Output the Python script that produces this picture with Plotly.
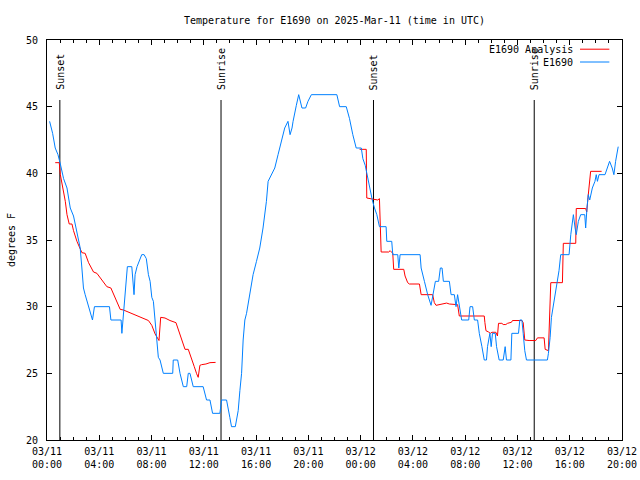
import pandas as pd
import plotly.graph_objects as go

# ---------------- data ----------------
start_time = "2025-03-11 00:00"
end_time = "2025-03-12 20:00"

# observed station temperature (E1690): hours after start, degrees F
obs_hours = [
    0.20, 0.43, 0.63, 0.84, 1.02, 1.27, 1.53, 1.78, 2.03, 2.29,
    2.54, 2.67, 2.79, 2.92, 3.18, 3.48, 3.63, 4.78, 4.89, 5.67,
    5.73, 5.82, 5.98, 6.15, 6.49, 6.59, 6.66, 6.74, 6.89, 7.25,
    7.43, 7.60, 7.76, 7.89, 8.02, 8.14, 8.40, 8.52, 8.65, 8.90,
    9.62, 9.66, 10.00, 10.18, 10.43, 10.69, 10.81, 10.94, 11.19, 11.95,
    12.21, 12.47, 12.67, 13.23, 13.36, 13.74, 13.99, 14.12, 14.41, 14.63,
    14.76, 14.89, 15.01, 15.14, 15.27, 15.52, 15.77, 16.03, 16.28, 16.53,
    16.79, 16.92, 17.18, 17.43, 17.68, 17.94, 18.19, 18.44, 18.60, 18.75,
    18.83, 19.08, 19.26, 19.51, 19.79, 19.97, 20.23, 22.18, 22.39, 22.90,
    23.15, 23.40, 23.66, 24.05, 24.17, 24.35, 24.50, 24.68, 24.89, 25.06,
    25.24, 25.44, 25.95, 26.00, 26.38, 26.46, 26.84, 26.92, 27.02, 28.55,
    28.63, 28.88, 29.13, 29.39, 29.56, 29.72, 29.97, 30.10, 30.23, 30.33,
    30.79, 30.92, 31.17, 31.30, 31.42, 31.55, 31.73, 32.27, 32.37, 32.57,
    32.70, 32.95, 33.08, 33.28, 33.46, 33.63, 33.71, 33.89, 33.99, 34.09,
    34.30, 34.40, 34.60, 34.91, 35.06, 35.16, 35.50, 35.57, 36.08, 36.18,
    36.34, 36.44, 36.56, 36.69, 38.29, 38.37, 38.50, 38.60, 38.73, 38.93,
    39.05, 39.18, 39.31, 39.95, 40.08, 40.20, 40.28, 40.41, 40.50, 40.66,
    40.84, 41.15, 41.22, 41.32, 41.42, 41.53, 41.73, 41.93, 42.03, 42.12,
    42.24, 42.70, 42.87, 43.05, 43.25, 43.38, 43.51, 43.63, 43.71,
]
obs_temp = [
    43.9, 43.0, 41.9, 41.4, 40.7, 39.6, 38.9, 37.4, 36.8, 35.7,
    34.4, 32.9, 31.4, 30.9, 30.0, 29.0, 30.0, 30.0, 29.0, 29.0,
    28.0, 29.0, 31.2, 33.0, 33.0, 31.2, 30.9, 32.4, 33.0, 33.9,
    33.9, 33.6, 32.4, 31.9, 30.7, 30.4, 27.5, 26.2, 26.0, 25.0,
    25.0, 26.0, 26.0, 25.0, 24.0, 24.0, 25.0, 25.0, 24.0, 24.0,
    23.0, 23.0, 22.0, 22.0, 23.0, 23.0, 21.7, 21.0, 21.0, 22.2,
    23.7, 25.0, 27.5, 29.0, 29.5, 30.9, 32.4, 33.4, 34.4, 35.9,
    37.9, 39.4, 39.9, 40.4, 41.4, 42.4, 43.4, 43.9, 42.9, 43.4,
    43.9, 45.1, 45.9, 44.9, 44.9, 45.4, 45.9, 45.9, 45.0, 45.0,
    44.1, 42.9, 41.9, 41.9, 41.1, 40.6, 39.9, 38.9, 38.0, 37.4,
    36.9, 36.0, 36.0, 34.9, 34.9, 33.9, 33.9, 32.9, 33.9, 33.9,
    32.9, 31.9, 30.9, 30.1, 30.9, 31.9, 31.9, 32.9, 32.9, 31.9,
    31.9, 30.9, 30.9, 30.0, 30.9, 30.0, 29.0, 29.0, 30.0, 30.0,
    29.0, 29.0, 28.0, 27.0, 26.0, 26.0, 27.0, 28.0, 27.0, 28.0,
    28.0, 27.0, 26.0, 26.0, 27.0, 26.0, 26.0, 28.0, 28.0, 29.0,
    29.0, 28.0, 26.7, 26.0, 26.0, 26.5, 27.7, 29.2, 30.0, 30.9,
    31.8, 32.7, 33.9, 33.9, 35.4, 36.4, 36.9, 35.9, 35.4, 36.4,
    36.9, 36.9, 35.9, 37.4, 38.4, 38.0, 38.9, 39.4, 39.9, 39.4,
    39.9, 39.9, 40.4, 40.9, 40.4, 39.9, 40.9, 41.6, 42.0,
]

# analysis temperature (E1690 Analysis): hours after start, degrees F (None = gap)
ana_hours = [
    0.63, 0.94, 1.02, 1.22, 1.40, 1.53, 1.70, 1.91, 2.03, 2.29,
    2.54, 2.67, 2.92, 3.18, 3.56, 3.82, 4.20, 4.58, 4.89, 5.21,
    5.60, 5.85, 6.23, 6.61, 6.99, 7.37, 7.76, 8.02, 8.27, 8.57,
    8.65, 8.70, 9.03, 9.41, 9.87, 10.18, 10.38, 10.56, 10.81, 11.07,
    11.27, 11.45, 11.57, 11.70, 11.83, 12.16, 12.47, 12.90,
    18.00,
    23.92, 24.43, 24.47, 25.31, 25.44, 25.57, 26.15, 26.26, 26.46, 26.53,
    27.30, 27.40, 27.60, 27.73, 28.50, 28.63, 29.51, 29.64, 29.77, 30.15,
    30.58, 30.79, 31.42, 31.55, 33.46, 33.51, 33.59, 33.79, 33.92, 34.05,
    34.35, 34.47, 34.55, 34.81, 34.91, 35.11, 35.24, 35.54, 35.62, 36.34,
    36.44, 36.56, 36.89, 37.40, 37.53, 38.04, 38.12, 38.37, 38.47, 38.55,
    39.44, 39.51, 40.46, 40.50, 41.22, 41.30, 41.40, 41.53, 41.60, 42.44,
]
ana_temp = [
    40.8, 40.8, 39.9, 38.9, 37.9, 36.9, 36.2, 36.2, 35.7, 34.9,
    34.4, 34.05, 34.0, 33.3, 32.6, 32.5, 32.0, 31.5, 31.4, 30.7,
    29.8, 29.75, 29.6, 29.4, 29.3, 29.15, 28.96, 28.6, 27.96, 27.46,
    28.3, 29.2, 29.15, 28.96, 28.8, 27.96, 27.3, 26.8, 26.8, 25.97,
    25.5, 24.97, 24.7, 25.6, 25.65, 25.7, 25.8, 25.82,
    None,
    41.8, 41.8, 38.15, 38.0, 38.1, 34.1, 34.1, 34.2, 34.0, 32.8,
    32.8, 32.3, 31.8, 31.7, 31.7, 30.9, 30.9, 30.3, 30.1, 30.2,
    30.27, 30.2, 30.15, 29.3, 29.3, 28.8, 28.2, 28.1, 28.0, 28.08,
    28.08, 27.8, 28.75, 28.75, 28.66, 28.66, 28.75, 28.83, 28.96, 28.96,
    28.8, 27.5, 27.46, 27.46, 27.66, 27.66, 26.8, 26.7, 29.2, 31.8,
    31.8, 34.75, 34.75, 37.36, 37.36, 37.1, 38.2, 39.4, 40.15, 40.15,
]

event_times = ["2025-03-11 00:59", "2025-03-11 13:19", "2025-03-12 00:59", "2025-03-12 13:17"]
event_labels = ["Sunset", "Sunrise", "Sunset", "Sunrise"]

series_names = ["E1690 Analysis", "E1690"]
series_colors = ["#ff0000", "#0080ff"]

# ---------------- figure ----------------
t0 = pd.Timestamp(start_time)


def to_times(hours):
    return [t0 + pd.Timedelta(hours=h) for h in hours]


fig = go.Figure()
fig.add_trace(go.Scatter(x=to_times(ana_hours), y=ana_temp, mode="lines",
                         name=series_names[0], connectgaps=False,
                         line=dict(color=series_colors[0], width=1)))
fig.add_trace(go.Scatter(x=to_times(obs_hours), y=obs_temp, mode="lines",
                         name=series_names[1],
                         line=dict(color=series_colors[1], width=1)))

for t, lab in zip(event_times, event_labels):
    fig.add_shape(type="line", x0=t, x1=t, xref="x", y0=0, y1=0.85, yref="paper",
                  line=dict(color="black", width=1), layer="below")
    fig.add_annotation(x=t, xref="x", y=0.87, yref="paper", text=lab,
                       textangle=-90, showarrow=False, xanchor="center",
                       yanchor="bottom", font=dict(size=10, color="black"))

# gnuplot-style key: right-aligned text with the line sample to its right
key_rows = [0.977, 0.945]
for name, color, yk in zip(series_names, series_colors, key_rows):
    fig.add_annotation(x=0.918, xref="paper", y=yk, yref="paper", text=name,
                       showarrow=False, xanchor="right", yanchor="middle",
                       font=dict(size=10, color="black"))
    fig.add_shape(type="line", x0=0.927, x1=0.978, xref="paper", y0=yk, y1=yk,
                  yref="paper", line=dict(color=color, width=1))

fig.update_layout(
    width=640, height=480,
    margin=dict(l=47, r=18, t=40, b=40, autoexpand=False),
    paper_bgcolor="white", plot_bgcolor="white",
    font=dict(family="DejaVu Sans Mono", size=10, color="black"),
    showlegend=False,
    title=dict(text="Temperature for E1690 on 2025-Mar-11 (time in UTC)",
               x=0.5, xref="paper", xanchor="center",
               y=1 - 20 / 480, yref="container", yanchor="middle",
               font=dict(size=10, color="black")),
)
fig.update_xaxes(
    type="date", range=[start_time, end_time], automargin=False,
    tick0=start_time, dtick=4 * 3600 * 1000,
    tickformat="%m/%d<br>%H:%M",
    ticks="inside", ticklen=5, tickcolor="black", tickwidth=1,
    showline=True, linecolor="black", linewidth=1, mirror="allticks",
    showgrid=False, zeroline=False,
    minor=dict(dtick=3600 * 1000, ticks="inside", ticklen=3,
               tickcolor="black", showgrid=False),
    tickfont=dict(size=10, color="black"),
    ticklabelstandoff=2,
)
fig.update_yaxes(
    range=[20, 50], dtick=5, tick0=20, automargin=False,
    ticks="inside", ticklen=5, tickcolor="black", tickwidth=1,
    showline=True, linecolor="black", linewidth=1, mirror="allticks",
    showgrid=False, zeroline=False,
    title=dict(text="degrees F", standoff=8, font=dict(size=10, color="black")),
    tickfont=dict(size=10, color="black"),
    ticklabelstandoff=6,
)

fig.write_html("out.html",
               config={"displayModeBar": False},
               post_script="document.body.style.margin='0';document.body.style.overflow='hidden';")
